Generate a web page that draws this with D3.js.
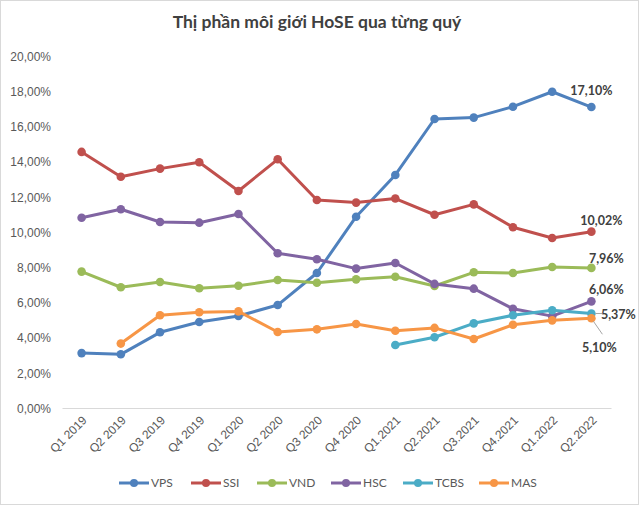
<!DOCTYPE html>
<html>
<head>
<meta charset="utf-8">
<style>
  body { margin: 0; background: #fff; }
  svg { display: block; font-family: Lato, "Open Sans", sans-serif; }
  .ylab text, .xlab text { fill: #595959; font-size: 12px; }
  .legend text { fill: #595959; font-size: 12px; }
  .dlabel { fill: #404040; font-size: 12.5px; font-weight: bold; }
</style>
</head>
<body>
<script src="https://d3js.org/d3.v7.min.js"></script>
<script>
// categories (quarters)
var quarters = ["Q1 2019", "Q2 2019", "Q3 2019", "Q4 2019", "Q1 2020", "Q2 2020", "Q3 2020",
                "Q4 2020", "Q1.2021", "Q2.2021", "Q3.2021", "Q4.2021", "Q1.2022", "Q2.2022"];

// market share, %
var vps  = [3.12, 3.05, 4.30, 4.89, 5.23, 5.85, 7.67, 10.87, 13.24, 16.42, 16.50, 17.12, 17.97, 17.10];
var ssi  = [14.55, 13.14, 13.60, 13.96, 12.33, 14.13, 11.82, 11.67, 11.90, 10.98, 11.57, 10.27, 9.66, 10.02];
var vnd  = [7.75, 6.86, 7.16, 6.80, 6.95, 7.27, 7.12, 7.31, 7.46, 6.93, 7.71, 7.67, 8.01, 7.96];
var hsc  = [10.81, 11.29, 10.57, 10.53, 11.02, 8.79, 8.45, 7.92, 8.24, 7.05, 6.78, 5.64, 5.22, 6.06];
var tcbs = [null, null, null, null, null, null, null, null, 3.58, 4.02, 4.81, 5.27, 5.55, 5.37];
var mas  = [null, 3.66, 5.27, 5.44, 5.49, 4.32, 4.47, 4.77, 4.39, 4.55, 3.92, 4.73, 4.98, 5.10];

var seriesNames = ["VPS", "SSI", "VND", "HSC", "TCBS", "MAS"];
var seriesColors = ["#4F81BD", "#C0504D", "#9BBB59", "#8064A2", "#4BACC6", "#F79646"];
var yTicks = [0, 2, 4, 6, 8, 10, 12, 14, 16, 18, 20];

var W = 640, H = 506;
var svg = d3.select("body").append("svg").attr("width", W).attr("height", H);

svg.append("rect").attr("x", 0.5).attr("y", 0.5).attr("width", W - 2).attr("height", H - 2)
   .attr("fill", "#fff").attr("stroke", "#d9d9d9");

// title
svg.append("text").attr("x", 317).attr("y", 28).attr("text-anchor", "middle")
   .style("font-size", "17.5px").style("font-weight", "bold").style("fill", "#404040")
   .text("Thị phần môi giới HoSE qua từng quý");

var x = d3.scaleBand().domain(quarters).range([62, 611]);
var y = d3.scaleLinear().domain([0, 20]).range([408, 56]);
var fmt = function(v) { return d3.format(".2f")(v).replace(".", ",") + "%"; };

// y axis labels
var yAxis = svg.append("g").attr("class", "ylab").attr("transform", "translate(51,0)")
   .call(d3.axisLeft(y).tickValues(yTicks).tickFormat(fmt).tickSize(0).tickPadding(0));
yAxis.select(".domain").remove();
yAxis.selectAll("text").attr("dy", "0.35em");

// x axis
var xAxis = svg.append("g").attr("class", "xlab").attr("transform", "translate(0,408)")
   .call(d3.axisBottom(x).tickSize(0).tickSizeOuter(0));
xAxis.select(".domain").attr("stroke", "#d9d9d9");
xAxis.selectAll("text")
   .attr("text-anchor", "end")
   .attr("transform", "translate(3,10) rotate(-45)")
   .attr("dy", "0.35em").attr("y", 0).attr("x", 0);

var cx = function(i) { return x(quarters[i]) + x.bandwidth() / 2; };
var allSeries = [vps, ssi, vnd, hsc, tcbs, mas];

var line = d3.line()
   .defined(function(d) { return d != null; })
   .x(function(d, i) { return cx(i); })
   .y(function(d) { return y(d); });

allSeries.forEach(function(s, k) {
  var g = svg.append("g");
  g.append("path").datum(s).attr("d", line).attr("fill", "none")
   .attr("stroke", seriesColors[k]).attr("stroke-width", 3).attr("stroke-linejoin", "round");
  g.selectAll("circle").data(s.map(function(v, i) { return {v: v, i: i}; }).filter(function(d) { return d.v != null; }))
   .enter().append("circle")
   .attr("cx", function(d) { return cx(d.i); })
   .attr("cy", function(d) { return y(d.v); })
   .attr("r", 4.3).attr("fill", seriesColors[k]);
});

// end-of-series data labels
var last = quarters.length - 1;
var labelOffsets = [[0, -16], [10, -11], [15, -9], [15, -12], [27, 1], [8, 29]];
allSeries.forEach(function(s, k) {
  var px = cx(last), py = y(s[last]);
  var o = labelOffsets[k];
  svg.append("text").attr("class", "dlabel")
     .attr("x", px + o[0]).attr("y", py + o[1]).attr("dy", "0.35em")
     .attr("text-anchor", "middle").text(fmt(s[last]));
});
// leader lines for TCBS and MAS
svg.append("line").attr("x1", cx(last) + 4).attr("y1", y(tcbs[last]))
   .attr("x2", cx(last) + 11).attr("y2", y(tcbs[last])).attr("stroke", "#a6a6a6");
svg.append("line").attr("x1", cx(last) + 2).attr("y1", y(mas[last]) + 3)
   .attr("x2", cx(last) + 11).attr("y2", y(mas[last]) + 16).attr("stroke", "#a6a6a6");

// legend
var legendX = [119, 191, 257, 331, 403, 479];
var legend = svg.append("g").attr("class", "legend");
seriesNames.forEach(function(n, k) {
  var lg = legend.append("g").attr("transform", "translate(" + legendX[k] + ",483)");
  lg.append("line").attr("x1", 0).attr("x2", 30).attr("stroke", seriesColors[k]).attr("stroke-width", 3);
  lg.append("circle").attr("cx", 15).attr("r", 4).attr("fill", seriesColors[k]);
  lg.append("text").attr("x", 32).attr("dy", "0.35em").text(n);
});
</script>
</body>
</html>
